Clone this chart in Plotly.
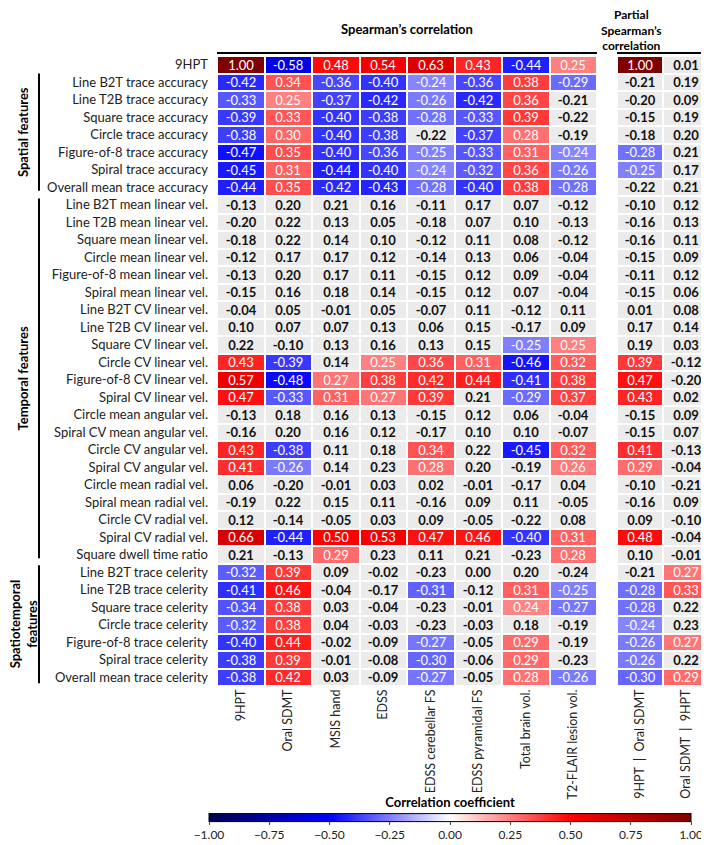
import plotly.graph_objects as go

W, H = 709, 845

# ===== data =====
ROWS = [
    "9HPT",
    "Line B2T trace accuracy", "Line T2B trace accuracy", "Square trace accuracy",
    "Circle trace accuracy", "Figure-of-8 trace accuracy", "Spiral trace accuracy",
    "Overall mean trace accuracy",
    "Line B2T mean linear vel.", "Line T2B mean linear vel.", "Square mean linear vel.",
    "Circle mean linear vel.", "Figure-of-8 mean linear vel.", "Spiral mean linear vel.",
    "Line B2T CV linear vel.", "Line T2B CV linear vel.", "Square CV linear vel.",
    "Circle CV linear vel.", "Figure-of-8 CV linear vel.", "Spiral CV linear vel.",
    "Circle mean angular vel.", "Spiral CV mean angular vel.", "Circle CV angular vel.",
    "Spiral CV angular vel.", "Circle mean radial vel.", "Spiral mean radial vel.",
    "Circle CV radial vel.", "Spiral CV radial vel.", "Square dwell time ratio",
    "Line B2T trace celerity", "Line T2B trace celerity", "Square trace celerity",
    "Circle trace celerity", "Figure-of-8 trace celerity", "Spiral trace celerity",
    "Overall mean trace celerity",
]

COLS_MAIN = ["9HPT", "Oral SDMT", "MSIS hand", "EDSS", "EDSS cerebellar FS",
             "EDSS pyramidal FS", "Total brain vol.", "T2-FLAIR lesion vol."]
COLS_PARTIAL = ["9HPT  |  Oral SDMT", "Oral SDMT  |  9HPT"]

nhpt = [1.00, -0.42, -0.33, -0.39, -0.38, -0.47, -0.45, -0.44,
        -0.13, -0.20, -0.18, -0.12, -0.13, -0.15, -0.04, 0.10, 0.22, 0.43, 0.57, 0.47,
        -0.13, -0.16, 0.43, 0.41, 0.06, -0.19, 0.12, 0.66, 0.21,
        -0.32, -0.41, -0.34, -0.32, -0.40, -0.38, -0.38]
oral_sdmt = [-0.58, 0.34, 0.25, 0.33, 0.30, 0.35, 0.31, 0.35,
             0.20, 0.22, 0.22, 0.17, 0.20, 0.16, 0.05, 0.07, -0.10, -0.39, -0.48, -0.33,
             0.18, 0.20, -0.38, -0.26, -0.20, 0.22, -0.14, -0.44, -0.13,
             0.39, 0.46, 0.38, 0.38, 0.44, 0.39, 0.42]
msis_hand = [0.48, -0.36, -0.37, -0.40, -0.40, -0.40, -0.44, -0.42,
             0.21, 0.13, 0.14, 0.17, 0.17, 0.18, -0.01, 0.07, 0.13, 0.14, 0.27, 0.31,
             0.16, 0.16, 0.11, 0.14, -0.01, 0.15, -0.05, 0.50, 0.29,
             0.09, -0.04, 0.03, 0.04, -0.02, -0.01, 0.03]
edss = [0.54, -0.40, -0.42, -0.38, -0.38, -0.36, -0.40, -0.43,
        0.16, 0.05, 0.10, 0.12, 0.11, 0.14, 0.05, 0.13, 0.16, 0.25, 0.38, 0.27,
        0.13, 0.12, 0.18, 0.23, 0.03, 0.11, 0.03, 0.53, 0.23,
        -0.02, -0.17, -0.04, -0.03, -0.09, -0.08, -0.09]
edss_cereb = [0.63, -0.24, -0.26, -0.28, -0.22, -0.25, -0.24, -0.28,
              -0.11, -0.18, -0.12, -0.14, -0.15, -0.15, -0.07, 0.06, 0.13, 0.36, 0.42, 0.39,
              -0.15, -0.17, 0.34, 0.28, 0.02, -0.16, 0.09, 0.47, 0.11,
              -0.23, -0.31, -0.23, -0.23, -0.27, -0.30, -0.27]
edss_pyr = [0.43, -0.36, -0.42, -0.33, -0.37, -0.33, -0.32, -0.40,
            0.17, 0.07, 0.11, 0.13, 0.12, 0.12, 0.11, 0.15, 0.15, 0.31, 0.44, 0.21,
            0.12, 0.10, 0.22, 0.20, -0.01, 0.09, -0.05, 0.46, 0.21,
            0.00, -0.12, -0.01, -0.03, -0.05, -0.06, -0.05]
brain_vol = [-0.44, 0.38, 0.36, 0.39, 0.28, 0.31, 0.36, 0.38,
             0.07, 0.10, 0.08, 0.06, 0.09, 0.07, -0.12, -0.17, -0.25, -0.46, -0.41, -0.29,
             0.06, 0.10, -0.45, -0.19, -0.17, 0.11, -0.22, -0.40, -0.23,
             0.20, 0.31, 0.24, 0.18, 0.29, 0.29, 0.28]
lesion_vol = [0.25, -0.29, -0.21, -0.22, -0.19, -0.24, -0.26, -0.28,
              -0.12, -0.13, -0.12, -0.04, -0.04, -0.04, 0.11, 0.09, 0.25, 0.32, 0.38, 0.37,
              -0.04, -0.07, 0.32, 0.26, 0.04, -0.05, 0.08, 0.31, 0.28,
              -0.24, -0.25, -0.27, -0.19, -0.19, -0.23, -0.26]
partial_nhpt = [1.00, -0.21, -0.20, -0.15, -0.18, -0.28, -0.25, -0.22,
                -0.10, -0.16, -0.16, -0.15, -0.11, -0.15, 0.01, 0.17, 0.19, 0.39, 0.47, 0.43,
                -0.15, -0.15, 0.41, 0.29, -0.10, -0.16, 0.09, 0.48, 0.10,
                -0.21, -0.28, -0.28, -0.24, -0.26, -0.26, -0.30]
partial_sdmt = [0.01, 0.19, 0.09, 0.19, 0.20, 0.21, 0.17, 0.21,
                0.12, 0.13, 0.11, 0.09, 0.12, 0.06, 0.08, 0.14, 0.03, -0.12, -0.20, 0.02,
                0.09, 0.07, -0.13, -0.04, -0.21, 0.09, -0.10, -0.04, -0.01,
                0.27, 0.33, 0.22, 0.23, 0.27, 0.22, 0.29]

MAIN = [nhpt, oral_sdmt, msis_hand, edss, edss_cereb, edss_pyr, brain_vol, lesion_vol]
PARTIAL = [partial_nhpt, partial_sdmt]

# cells shown grey (not significant) although |r| is above the cut-off
NOT_SIG = [("Line B2T trace celerity", "T2-FLAIR lesion vol.")]
SIG_CUT = 0.235

GROUPS = [
    ("Spatial features", 0.5, 7.2),
    ("Temporal features", 7.65, 28.2),
    ("Spatiotemporal<br>features", 28.6, 35.35),
]

SEISMIC = [[0.0, "rgb(0,0,77)"], [0.25, "rgb(0,0,255)"], [0.5, "rgb(255,255,255)"],
           [0.75, "rgb(255,0,0)"], [1.0, "rgb(128,0,0)"]]
GREY = "#ebebeb"
FONT = "Lato"
FS = 13


def split(cols, names):
    # returns z for coloured cells, z for grey cells and matching text
    zc, zg, tc, tg = [], [], [], []
    for i, r in enumerate(ROWS):
        a, b, c, d = [], [], [], []
        for col, name in zip(cols, names):
            v = col[i]
            sig = abs(v) >= SIG_CUT and (r, name) not in NOT_SIG
            a.append(v if sig else None)
            b.append(None if sig else 0)
            c.append(f"{v:.2f}" if sig else "")
            d.append("" if sig else f"{v:.2f}")
        zc.append(a); zg.append(b); tc.append(c); tg.append(d)
    return zc, zg, tc, tg


fig = go.Figure()

for cols, names, xa in [(MAIN, COLS_MAIN, "x"), (PARTIAL, COLS_PARTIAL, "x2")]:
    zc, zg, tc, tg = split(cols, names)
    fig.add_trace(go.Heatmap(
        x=names, y=ROWS, z=zg, text=tg, texttemplate="%{text}",
        textfont=dict(family=FONT, size=FS, color="#111", weight="bold"),
        colorscale=[[0, GREY], [1, GREY]], showscale=False,
        xgap=2, ygap=2, hoverinfo="skip", xaxis=xa, yaxis="y"))
    fig.add_trace(go.Heatmap(
        x=names, y=ROWS, z=zc, text=tc, texttemplate="%{text}",
        textfont=dict(family=FONT, size=FS, color="white"),
        coloraxis="coloraxis", xgap=2, ygap=2, xaxis=xa, yaxis="y",
        hovertemplate="%{y}<br>%{x}: %{z:.2f}<extra></extra>"))

# group brackets and labels
for label, y0, y1 in GROUPS:
    fig.add_shape(type="line", xref="paper", yref="y", x0=31 / W, x1=31 / W,
                  y0=y0, y1=y1, line=dict(color="black", width=2))
    fig.add_annotation(text=f"<b>{label}</b>", xref="paper", yref="y",
                       x=15 / W, y=(y0 + y1) / 2, textangle=-90, showarrow=False,
                       xanchor="center", yanchor="middle",
                       font=dict(family=FONT, size=FS, color="black"))

# header lines and titles
for x0, x1 in [(209, 589), (609, 701)]:
    fig.add_shape(type="line", xref="paper", yref="paper", x0=x0 / W, x1=x1 / W,
                  y0=1 - 45 / H, y1=1 - 45 / H, line=dict(color="black", width=2))
fig.add_annotation(text="<b>Spearman’s correlation</b>", xref="paper", yref="paper",
                   x=399 / W, y=1 - 21 / H, showarrow=False, yanchor="middle",
                   font=dict(family=FONT, size=FS, color="black"))
fig.add_annotation(text="<b>Partial<br>Spearman’s<br>correlation</b>", xref="paper",
                   yref="paper", x=655 / W, y=1 - 22 / H, showarrow=False,
                   yanchor="middle", borderpad=0,
                   font=dict(family=FONT, size=12, color="black"))

fig.update_layout(
    width=W, height=H, margin=dict(l=0, r=0, t=0, b=0),
    paper_bgcolor="white", plot_bgcolor="white",
    font=dict(family=FONT, size=FS, color="#222"),
    showlegend=False,
    coloraxis=dict(
        colorscale=SEISMIC, cmin=-1, cmax=1,
        colorbar=dict(
            orientation="h", x=442 / W, xanchor="center", y=1 - 835 / H, yanchor="bottom",
            lenmode="pixels", len=482, thickness=8, xpad=0, ypad=0,
            outlinecolor="black", outlinewidth=1,
            tickvals=[-1, -0.75, -0.5, -0.25, 0, 0.25, 0.5, 0.75, 1], tickformat=".2f",
            ticks="outside", ticklen=3, ticklabeloverflow="allow",
            tickfont=dict(family=FONT, size=12, color="#222"),
            title=dict(text="<b>Correlation coefficient</b>", side="top",
                       font=dict(family=FONT, size=FS, color="black")),
        ),
    ),
    xaxis=dict(domain=[209 / W, 589 / W], anchor="y", tickangle=-90, ticks="",
               showgrid=False, zeroline=False, tickfont=dict(size=12.5)),
    xaxis2=dict(domain=[609 / W, 701 / W], anchor="y", tickangle=-90, ticks="",
                showgrid=False, zeroline=False, tickfont=dict(size=12.5)),
    yaxis=dict(domain=[1 - 678 / H, 1 - 48 / H], autorange="reversed", ticks="",
               showgrid=False, zeroline=False, ticklabelstandoff=8,
               tickfont=dict(size=FS)),
)

fig.write_html("out.html")
